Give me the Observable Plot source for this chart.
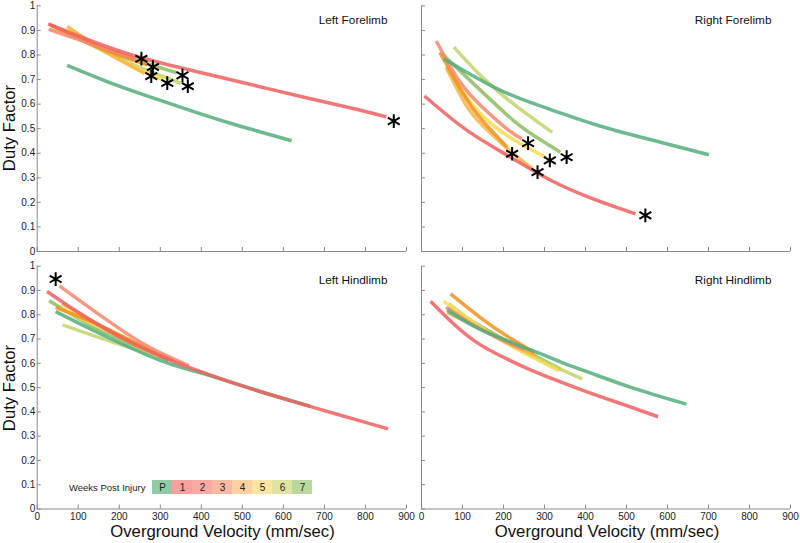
<!DOCTYPE html>
<html><head><meta charset="utf-8">
<script src="https://cdn.jsdelivr.net/npm/d3@7"></script>
<script src="https://cdn.jsdelivr.net/npm/@observablehq/plot@0.6"></script>
<style>
body{margin:0;background:#fff;}
#chart{position:relative;width:800px;height:543px;font-family:"Liberation Sans",Arial,sans-serif;overflow:hidden;background:#fff;}
#chart > * {position:absolute;}
.ylab{font-size:16.7px;color:#111;transform:translate(-50%,-50%) rotate(-90deg);white-space:nowrap;}
.xlab{font-size:16.7px;color:#111;transform:translate(-50%,-50%);white-space:nowrap;}
</style></head><body><div id="chart"></div>
<script>
// ---- categories & colours ----
const weeks = ["P","1","2","3","4","5","6","7"];
const lineColors = ["#54ad7c","#f25f5f","#f4876e","#f0901c","#f7b444","#f7dc50","#c3d46c","#8cbd60"];
const legendColors = ["#90cba6","#f7a0a0","#f8aaa2","#fab9a0","#fcd2a2","#fde6a0","#e0e4a2","#b8d8a0"];
const drawOrder = ["7","6","5","4","3","2","P","1"];
const xTicks = [0,100,200,300,400,500,600,700,800,900];
const yTicks = [0,0.1,0.2,0.3,0.4,0.5,0.6,0.7,0.8,0.9,1];

// ---- Left Forelimb: [velocity, duty factor] ----
const leftForelimb = {
  P: [[73,0.758],[195,0.676],[300,0.615],[398,0.56],[495,0.51],[620,0.451]],
  "1": [[27,0.927],[140,0.852],[251,0.79],[370,0.74],[495,0.69],[640,0.632],[762,0.585],[851,0.548]],
  "2": [[28,0.905],[140,0.84],[240,0.785]],
  "3": [[30,0.925],[150,0.83],[268,0.76]],
  "4": [[73,0.916],[170,0.81],[262,0.725]],
  "5": [[75,0.91],[190,0.79],[305,0.70]],
  "6": [[60,0.905],[200,0.785],[350,0.685]],
  "7": [[35,0.92],[180,0.815],[340,0.728]]
};
const leftForelimbStars = [[254,0.785],[282,0.751],[278,0.714],[317,0.686],[354,0.717],[367,0.673],[869,0.531]];

// ---- Right Forelimb ----
const rightForelimb = {
  P: [[54,0.785],[193,0.656],[315,0.578],[437,0.51],[583,0.445],[701,0.394]],
  "1": [[7,0.633],[111,0.493],[217,0.384],[315,0.29],[420,0.213],[522,0.153]],
  "2": [[36,0.857],[91,0.697],[148,0.588],[213,0.493],[245,0.459]],
  "3": [[45,0.81],[107,0.628],[148,0.534],[209,0.425]],
  "4": [[60,0.75],[107,0.60],[148,0.515],[209,0.42],[270,0.337]],
  "5": [[65,0.74],[136,0.574],[220,0.46],[303,0.384]],
  "6": [[79,0.832],[148,0.71],[229,0.595],[319,0.485]],
  "7": [[50,0.805],[148,0.65],[229,0.527],[290,0.455],[339,0.404]]
};
const rightForelimbStars = [[260,0.441],[221,0.398],[283,0.323],[313,0.371],[354,0.384],[546,0.147]];

// ---- Left Hindlimb ----
const leftHindlimb = {
  P: [[45,0.813],[150,0.725],[300,0.612],[400,0.56],[500,0.507],[600,0.455],[665,0.423]],
  "1": [[24,0.896],[100,0.81],[200,0.71],[300,0.63],[400,0.565],[500,0.507],[600,0.455],[700,0.405],[800,0.357],[855,0.33]],
  "2": [[54,0.919],[160,0.79],[266,0.673],[370,0.59]],
  "3": [[45,0.83],[160,0.75],[280,0.65],[330,0.615]],
  "4": [[60,0.845],[170,0.74],[290,0.64]],
  "5": [[55,0.825],[170,0.735],[300,0.63]],
  "6": [[62,0.758],[180,0.69],[320,0.62]],
  "7": [[29,0.858],[150,0.74],[320,0.612]]
};
const leftHindlimbStars = [[45,0.947]];

// ---- Right Hindlimb ----
const rightHindlimb = {
  P: [[63,0.818],[150,0.735],[270,0.653],[351,0.598],[424,0.553],[518,0.497],[646,0.432]],
  "1": [[22,0.856],[80,0.76],[140,0.68],[200,0.625],[270,0.57],[392,0.49],[490,0.432],[577,0.38]],
  "2": [[60,0.83],[150,0.735],[250,0.655]],
  "3": [[71,0.886],[150,0.78],[220,0.70],[275,0.645]],
  "4": [[63,0.81],[170,0.72],[280,0.63]],
  "5": [[54,0.856],[180,0.71],[335,0.57]],
  "6": [[67,0.845],[200,0.69],[392,0.536]],
  "7": [[65,0.83],[200,0.70],[340,0.575]]
};
const rightHindlimbStars = [];

const FONT = '"Liberation Sans", Arial, sans-serif';
const AXIS = "#8a8a8a";
const chart = document.getElementById("chart");

function panel({data, stars, title, left, top, width, height, mL, mR, mT, mB, xLabels, yLabels}) {
  const marks = [
    Plot.ruleX([0], {stroke: AXIS}),
    Plot.ruleY([0], {stroke: AXIS}),
    Plot.axisX(xTicks, {tickSize: -4, stroke: AXIS, tickFormat: () => "", label: null}),
    Plot.axisY(yTicks, {tickSize: -4, stroke: AXIS, tickFormat: () => "", label: null})
  ];
  if (xLabels) marks.push(Plot.axisX(xTicks, {tickSize: 0, tickPadding: 3.5, tickFormat: d3.format("d"), label: null, fill: "#222"}));
  if (yLabels) marks.push(Plot.axisY(yTicks, {tickSize: 0, tickPadding: 2, tickFormat: d => String(d), label: null, fill: "#222"}));
  for (const w of drawOrder) {
    const pts = data[w];
    if (!pts) continue;
    marks.push(Plot.line(pts, {x: d => d[0], y: d => d[1], stroke: lineColors[weeks.indexOf(w)],
      strokeWidth: 3.5, strokeOpacity: 0.85, curve: "natural", strokeLinecap: "butt"}));
  }
  marks.push(Plot.dot(stars, {x: d => d[0], y: d => d[1], symbol: "asterisk", r: 6.5, stroke: "#000", strokeWidth: 2}));
  marks.push(Plot.text([title], {frameAnchor: "top-right", dx: -19, dy: 14.5, lineAnchor: "middle", fontSize: 11.8, fill: "#111"}));
  const svg = Plot.plot({
    width, height, marginLeft: mL, marginRight: mR, marginTop: mT, marginBottom: mB,
    x: {domain: [0, 900]}, y: {domain: [0, 1]},
    style: {fontFamily: FONT, fontSize: "10px", color: "#222", background: "transparent", overflow: "visible"},
    marks
  });
  svg.style.left = left + "px";
  svg.style.top = top + "px";
  svg.style.position = "absolute";
  chart.appendChild(svg);
}

panel({data: leftForelimb, stars: leftForelimbStars, title: "Left Forelimb", left: 0, top: 0, width: 410, height: 258, mL: 36.7, mR: 4, mT: 5.4, mB: 7, xLabels: false, yLabels: true});
panel({data: rightForelimb, stars: rightForelimbStars, title: "Right Forelimb", left: 400, top: 0, width: 400, height: 258, mL: 21, mR: 10, mT: 5.4, mB: 7, xLabels: false, yLabels: false});
panel({data: leftHindlimb, stars: leftHindlimbStars, title: "Left Hindlimb", left: 0, top: 258, width: 410, height: 270, mL: 36.7, mR: 4, mT: 7.7, mB: 19.5, xLabels: true, yLabels: true});
panel({data: rightHindlimb, stars: rightHindlimbStars, title: "Right Hindlimb", left: 400, top: 258, width: 400, height: 270, mL: 21, mR: 10, mT: 7.7, mB: 19.5, xLabels: true, yLabels: false});

// legend
const legend = Plot.plot({
  width: 162, height: 14, margin: 0,
  x: {domain: weeks, padding: 0, axis: null},
  color: {domain: weeks, range: legendColors},
  style: {fontFamily: FONT, fontSize: "10px", background: "transparent", overflow: "visible"},
  marks: [
    Plot.cell(weeks, {x: d => d, fill: d => d}),
    Plot.text(weeks, {x: d => d, text: d => d, fontSize: 10, fill: "#222"})
  ]
});
legend.style.left = "150.7px"; legend.style.top = "480px"; legend.style.position = "absolute";
chart.appendChild(legend);

function label(text, cls, x, y) {
  const d = document.createElement("div");
  d.className = cls; d.textContent = text;
  d.style.left = x + "px"; d.style.top = y + "px";
  chart.appendChild(d);
}
const lt = document.createElement("div");
lt.textContent = "Weeks Post Injury";
lt.style.cssText = "left:69px;top:486.5px;transform:translateY(-50%);font-size:9.5px;color:#222;white-space:nowrap;";
chart.appendChild(lt);
label("Duty Factor", "ylab", 9.5, 128);
label("Duty Factor", "ylab", 9.5, 387.5);
label("Overground Velocity (mm/sec)", "xlab", 222.5, 532);
label("Overground Velocity (mm/sec)", "xlab", 607, 532);
</script>
</body></html>
